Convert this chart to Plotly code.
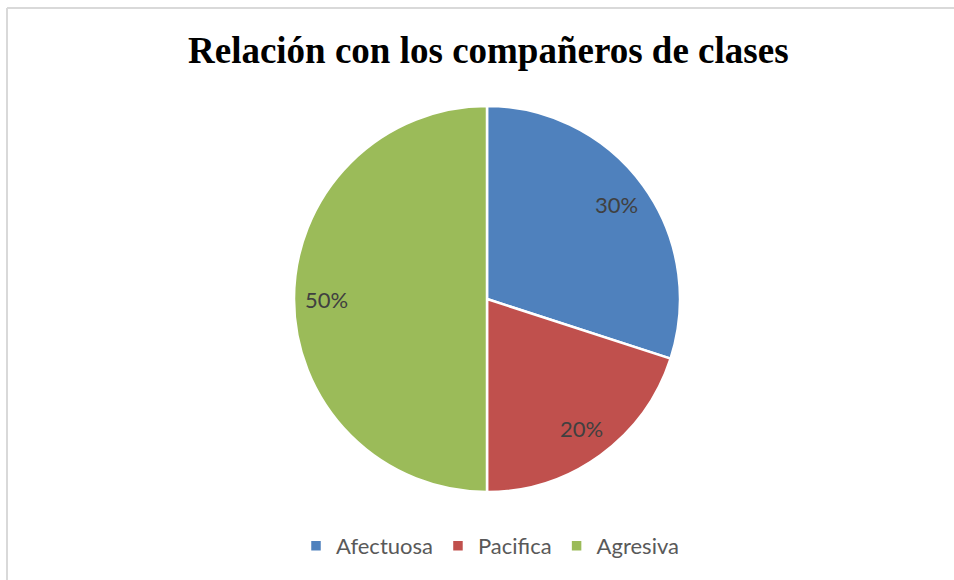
import math
import plotly.graph_objects as go

categories = ["Afectuosa", "Pacifica", "Agresiva"]
values = [30, 20, 50]
colors = ["#4F81BD", "#C0504D", "#9BBB59"]
title_text = "Relación con los compañeros de clases"

W, H = 954, 580

# pie geometry (pixels, margins are zero so paper == page)
cx, cy, R = 487, 299, 193
dom_x = [(cx - R) / W, (cx + R) / W]
dom_y = [1 - (cy + R) / H, 1 - (cy - R) / H]

fig = go.Figure(go.Pie(
    labels=categories,
    values=values,
    sort=False,
    direction="clockwise",
    rotation=0,
    marker=dict(colors=colors, line=dict(color="white", width=2.5)),
    textinfo="none",
    domain=dict(x=dom_x, y=dom_y),
    hoverinfo="skip",
))

# percentage labels placed at the slice mid-angles
total = sum(values)
annotations = []
cum = 0
for v in values:
    mid = (cum + v / 2) / total * 2 * math.pi
    cum += v
    r_lab = 0.83 * R
    px = cx + r_lab * math.sin(mid)
    py = cy - r_lab * math.cos(mid)
    annotations.append(dict(
        text=f"{round(v / total * 100)}%",
        x=px / W, y=1 - py / H, xref="paper", yref="paper",
        xanchor="center", yanchor="middle", showarrow=False,
        font=dict(family="Lato", size=22, color="#404040"),
    ))

annotations.append(dict(
    text="<b>" + title_text + "</b>",
    x=488 / W, y=1 - 50 / H, xref="paper", yref="paper",
    xanchor="center", yanchor="middle", showarrow=False,
    font=dict(family="Liberation Serif", size=37, color="black"),
))

fig.update_layout(
    width=W, height=H,
    margin=dict(l=0, r=0, t=0, b=0),
    paper_bgcolor="white",
    plot_bgcolor="white",
    showlegend=True,
    legend=dict(
        orientation="h",
        x=490 / W, xanchor="center",
        y=1 - 546 / H, yanchor="middle",
        font=dict(family="Lato", size=22, color="#595959"),
        itemwidth=30,
        traceorder="normal",
    ),
    annotations=annotations,
    shapes=[
        dict(type="line", xref="paper", yref="paper",
             x0=7 / W, x1=1, y0=1 - 8 / H, y1=1 - 8 / H,
             line=dict(color="#d9d9d9", width=2)),
        dict(type="line", xref="paper", yref="paper",
             x0=7 / W, x1=7 / W, y0=0, y1=1 - 8 / H,
             line=dict(color="#d9d9d9", width=2)),
    ],
)

fig.write_html("out.html", config={"displayModeBar": False},
               post_script="document.body.style.margin='0';")
